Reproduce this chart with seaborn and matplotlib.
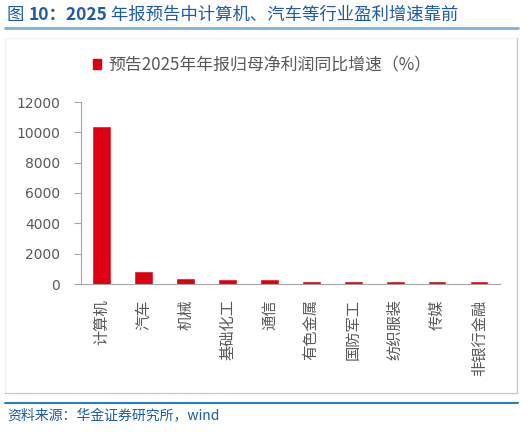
import pandas as pd
import matplotlib
matplotlib.use("Agg")
import matplotlib.pyplot as plt
import seaborn as sns
from matplotlib.patches import Rectangle
from matplotlib.lines import Line2D

# ==========================================================
# Data
# ==========================================================

industries = ["计算机", "汽车", "机械", "基础化工", "通信",
              "有色金属", "国防军工", "纺织服装", "传媒", "非银行金融"]
growth = [10360, 820, 310, 290, 245, 125, 120, 118, 112, 108]
series_name = "预告2025年年报归母净利润同比增速（%）"
y_ticks = [0, 2000, 4000, 6000, 8000, 10000, 12000]

df = pd.DataFrame({"industry": industries, "growth": growth})

# ==========================================================
# Style
# ==========================================================

sns.set_style("white")
plt.rcParams["font.family"] = ["Noto Sans CJK SC", "DejaVu Sans"]

RED = "#DC0012"
GRAY_TXT = "#595959"
AX_GRAY = "#A6A6A6"
TITLE_BLUE = "#1F5AA6"

fig = plt.figure(figsize=(5.27, 4.32), dpi=100)
ax = fig.add_axes([80.7 / 527, 1 - 284 / 432, (500 - 80.7) / 527, (284 - 102) / 432])

sns.barplot(data=df, x="industry", y="growth", color=RED, width=0.4,
            saturation=1, ax=ax, linewidth=0.4, edgecolor=RED)

ax.set_xlim(-0.5, len(industries) - 0.5)
ax.set_ylim(0, 12000)
ax.set_yticks(y_ticks)
ax.set_yticklabels([str(v) for v in y_ticks], fontsize=10, color=GRAY_TXT,
                   fontfamily="DejaVu Sans")
ax.set_xlabel("")
ax.set_ylabel("")

# category labels at centres, tick marks at boundaries
ax.set_xticks(range(len(industries)))
ax.set_xticklabels(industries, rotation=90, fontsize=11, color=GRAY_TXT,
                   ha="center", va="top")
ax.set_xticks([i - 0.5 for i in range(len(industries) + 1)], minor=True)
ax.tick_params(axis="x", which="major", length=0, pad=11)
ax.tick_params(axis="x", which="minor", length=5, direction="out", color=AX_GRAY, width=0.8)
ax.tick_params(axis="y", length=5, direction="out", color=AX_GRAY, width=0.8, pad=10, left=True)

for s in ["top", "right"]:
    ax.spines[s].set_visible(False)
for s in ["left", "bottom"]:
    ax.spines[s].set_color(AX_GRAY)
    ax.spines[s].set_linewidth(0.8)

# legend
fig.legend(handles=[Rectangle((0, 0), 1, 1, color=RED)], labels=[series_name],
           loc="center", bbox_to_anchor=(0.497, 1 - 65 / 432), frameon=False,
           fontsize=12.2, handlelength=0.5, handleheight=0.5, handletextpad=0.4,
           labelcolor=GRAY_TXT)

# ==========================================================
# Frame, title and source
# ==========================================================

fig.add_artist(Line2D([5 / 527, 518 / 527], [1 - 28 / 432] * 2, color="#7FB2D9", lw=2))
fig.add_artist(Rectangle((5 / 527, 1 - 393 / 432), 512 / 527, 355 / 432,
                         fill=False, edgecolor="#F2F2F2", lw=0.8))
fig.add_artist(Line2D([5 / 527, 517 / 527], [1 - 393 / 432] * 2, color="#C8C8C8", lw=0.9))
fig.add_artist(Line2D([517 / 527] * 2, [1 - 393 / 432, 1 - 38 / 432], color="#C8C8C8", lw=0.9))
fig.add_artist(Line2D([5 / 527, 518 / 527], [1 - 403 / 432] * 2, color="#2E7DBF", lw=1.5))

renderer = fig.canvas.get_renderer()
x = 7 / 527
for part, weight in [("图 ", "normal"), ("10：2025", "bold"),
                     (" 年报预告中计算机、汽车等行业盈利增速靠前", "normal")]:
    t = fig.text(x, 1 - 15 / 432, part, fontsize=12.5, color=TITLE_BLUE,
                 fontweight=weight, va="center", ha="left")
    bb = t.get_window_extent(renderer)
    x = bb.x1 / fig.bbox.width

fig.text(7 / 527, 1 - 416 / 432, "资料来源：华金证券研究所，wind", fontsize=10,
         color=TITLE_BLUE, style="italic", va="center", ha="left")

fig.savefig("out.png", dpi=100)
